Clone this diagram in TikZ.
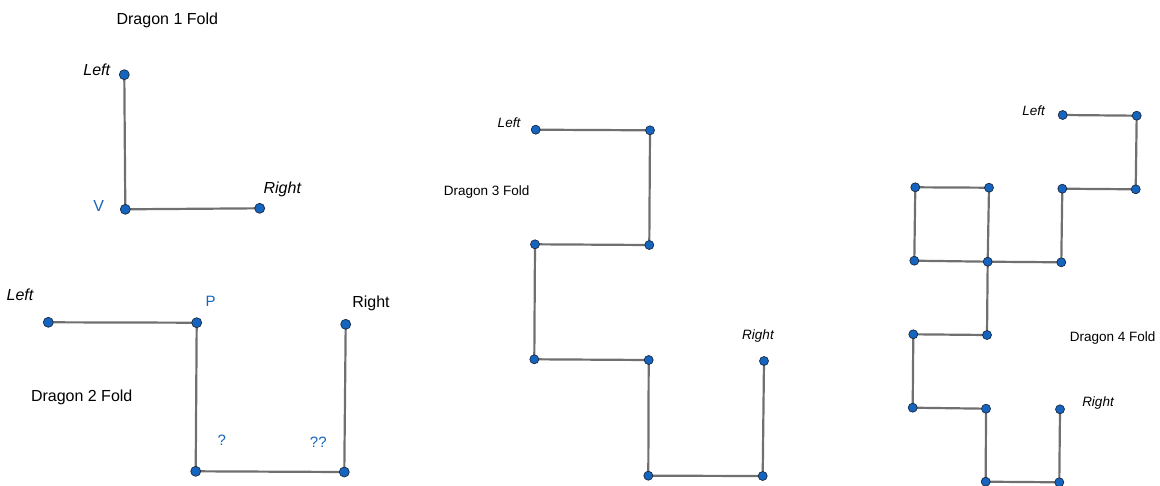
\documentclass[tikz,border=0pt]{standalone}
\usepackage{fontspec}
\setmainfont{Liberation Sans}
\pgfdeclarelayer{bg}
\pgfsetlayers{bg,main}
\definecolor{ggblue}{HTML}{1565C0}
\definecolor{ggline}{HTML}{707070}
\definecolor{ggdark}{HTML}{1A2A40}
\tikzset{
  pt/.style={circle,fill=ggblue,draw=ggdark,line width=0.7pt,inner sep=0pt,minimum size=10pt},
  spt/.style={pt,minimum size=9pt},
  seg/.style={draw=ggline,line width=2.2pt},
  big/.style={inner sep=0pt,font=\fontsize{16}{19}\selectfont},
  small/.style={inner sep=0pt,font=\fontsize{13.5}{16}\selectfont},
  bigit/.style={big,font=\fontsize{16}{19}\selectfont\itshape},
  smallit/.style={small,font=\fontsize{13.5}{16}\selectfont\itshape},
  lab/.style={inner sep=0pt,text=ggblue,font=\fontsize{15}{18}\selectfont}
}
\begin{document}
\begin{tikzpicture}[x=1pt,y=-1pt]
\useasboundingbox (0,0) rectangle (1160,485);
% ---------- Dragon 1 ----------
\node[big] (t1) at (167.3,20) {Dragon 1 Fold};
\node[pt] (a1) at (124.3,74.7) {};
\node[pt] (a2) at (125.3,209.3) {};
\node[pt] (a3) at (259.7,208.3) {};
\node[bigit] (l1) at (96.7,70) {Left};
\node[bigit] (r1) at (282.3,189.3) {Right};
\node[lab,font=\fontsize{16}{19}\selectfont] (v1) at (98.7,205.7) {V};
\begin{pgfonlayer}{bg}
\draw[seg] (a1.center) -- (a2.center) -- (a3.center);
\end{pgfonlayer}
% ---------- Dragon 2 ----------
\node[big] (t2) at (81.7,397.3) {Dragon 2 Fold};
\node[pt] (b1) at (48.3,322.3) {};
\node[pt] (b2) at (196.7,322.7) {};
\node[pt] (b3) at (195.7,471.3) {};
\node[pt] (b4) at (344.3,472) {};
\node[pt] (b5) at (345.7,324.3) {};
\node[bigit] (l2) at (20,295) {Left};
\node[big] (r2) at (371,303.3) {Right};
\node[lab] (p2) at (210.7,301.5) {P};
\node[lab] (q1) at (221.7,440) {?};
\node[lab] (q2) at (318.3,442) {??};
\begin{pgfonlayer}{bg}
\draw[seg] (b1.center) -- (b2.center) -- (b3.center) -- (b4.center) -- (b5.center);
\end{pgfonlayer}
% ---------- Dragon 3 ----------
\node[small] (t3) at (486.7,191.7) {Dragon 3 Fold};
\node[spt] (c1) at (535.7,129.7) {};
\node[spt] (c2) at (650,130.3) {};
\node[spt] (c3) at (649.3,245) {};
\node[spt] (c4) at (535,244.3) {};
\node[spt] (c5) at (534.3,359.3) {};
\node[spt] (c6) at (648.7,360) {};
\node[spt] (c7) at (648.3,475.7) {};
\node[spt] (c8) at (762.7,476) {};
\node[spt] (c9) at (764,361) {};
\node[smallit] (l3) at (509,122.7) {Left};
\node[smallit] (r3) at (758,336) {Right};
\begin{pgfonlayer}{bg}
\draw[seg] (c1.center) -- (c2.center) -- (c3.center) -- (c4.center) -- (c5.center)
  -- (c6.center) -- (c7.center) -- (c8.center) -- (c9.center);
\end{pgfonlayer}
% ---------- Dragon 4 ----------
\node[small] (t4) at (1112.7,337.7) {Dragon 4 Fold};
\node[spt] (d1) at (1062.7,115) {};
\node[spt] (d2) at (1136.7,115.7) {};
\node[spt] (d3) at (1135.7,189.3) {};
\node[spt] (d4) at (1062.3,188.7) {};
\node[spt] (d5) at (1061.3,262.3) {};
\node[spt] (d6) at (987.7,261.7) {};
\node[spt] (d7) at (989,187.7) {};
\node[spt] (d8) at (915.3,187.3) {};
\node[spt] (d9) at (914.3,260.7) {};
\node[spt] (d10) at (987,335) {};
\node[spt] (d11) at (913.3,334.3) {};
\node[spt] (d12) at (912.7,407.7) {};
\node[spt] (d13) at (986,408.7) {};
\node[spt] (d14) at (985.7,481.7) {};
\node[spt] (d15) at (1059.3,482.3) {};
\node[spt] (d16) at (1060,409.3) {};
\node[smallit] (l4) at (1033.7,110.7) {Left};
\node[smallit] (r4) at (1098,403) {Right};
\begin{pgfonlayer}{bg}
\draw[seg] (d1.center) -- (d2.center) -- (d3.center) -- (d4.center) -- (d5.center)
  -- (d6.center) -- (d7.center) -- (d8.center) -- (d9.center) -- (d6.center)
  -- (d10.center) -- (d11.center) -- (d12.center) -- (d13.center) -- (d14.center)
  -- (d15.center) -- (d16.center);
\end{pgfonlayer}
\end{tikzpicture}
\end{document}
